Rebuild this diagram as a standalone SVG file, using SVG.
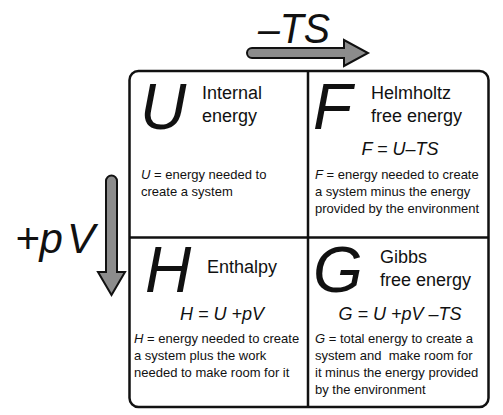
<svg xmlns="http://www.w3.org/2000/svg" width="503" height="415" viewBox="0 0 503 415">
<style>
text{font-family:"Liberation Sans",Arial,sans-serif;fill:#111}
.big{font-size:64px;font-style:italic}
.hd{font-size:18px}
.fm{font-size:18px;font-style:italic}
.ds{font-size:13px}
.it{font-style:italic}
.arr{fill:#8c8c8c;stroke:#111;stroke-width:2;stroke-linejoin:miter}
.ax{font-size:42px;font-style:italic}
.line{stroke:#111;stroke-width:2.5;fill:none}
</style>
<rect width="503" height="415" fill="#fff"/>
<g id="connectors">
<path class="arr" d="M252,48 L344,48 L344,40 L368,53 L344,66 L344,58 L252,58 A5,5 0 0 1 252,48 Z"/>
<path class="arr" d="M106,181 A5.5,5.5 0 0 1 117,181 L117,272 L125,272 L111.5,295 L98,272 L106,272 Z"/>
<text class="ax" x="258" y="43" textLength="72" lengthAdjust="spacingAndGlyphs">–TS</text>
<text class="ax" x="15" y="253">+p<tspan dx="4">V</tspan></text>
</g>
<g id="frame">
<rect class="line" x="129.5" y="71" width="359" height="336" rx="9"/>
<line class="line" x1="308" y1="71" x2="308" y2="407"/>
<line class="line" x1="129.5" y1="237.5" x2="488.5" y2="237.5"/>
</g>
<g id="U">
<text class="big" x="140" y="129">U</text>
<text class="hd" x="202" y="99">Internal</text>
<text class="hd" x="202" y="122">energy</text>
<text class="ds" x="141" y="179"><tspan class="it">U</tspan> = energy needed to</text>
<text class="ds" x="141" y="196">create a system</text>
</g>
<g id="F">
<text class="big" x="313" y="129">F</text>
<text class="hd" x="371" y="99">Helmholtz</text>
<text class="hd" x="371" y="122">free energy</text>
<text class="fm" x="400" y="155" text-anchor="middle">F = U–TS</text>
<text class="ds" x="315" y="179"><tspan class="it">F</tspan> = energy needed to create</text>
<text class="ds" x="315" y="196">a system minus the energy</text>
<text class="ds" x="315" y="213">provided by the environment</text>
</g>
<g id="H">
<text class="big" x="145" y="292">H</text>
<text class="hd" x="207" y="273">Enthalpy</text>
<text class="fm" x="222" y="320" text-anchor="middle">H = U +pV</text>
<text class="ds" x="134" y="343"><tspan class="it">H</tspan> = energy needed to create</text>
<text class="ds" x="134" y="360">a system plus the work</text>
<text class="ds" x="134" y="377">needed to make room for it</text>
</g>
<g id="G">
<text class="big" x="313" y="292">G</text>
<text class="hd" x="380" y="263">Gibbs</text>
<text class="hd" x="380" y="286">free energy</text>
<text class="fm" x="400" y="320" text-anchor="middle">G = U +pV –TS</text>
<text class="ds" x="315" y="343"><tspan class="it">G</tspan> = total energy to create a</text>
<text class="ds" x="315" y="360">system and&#160; make room for</text>
<text class="ds" x="315" y="377">it minus the energy provided</text>
<text class="ds" x="315" y="394">by the environment</text>
</g>
</svg>
